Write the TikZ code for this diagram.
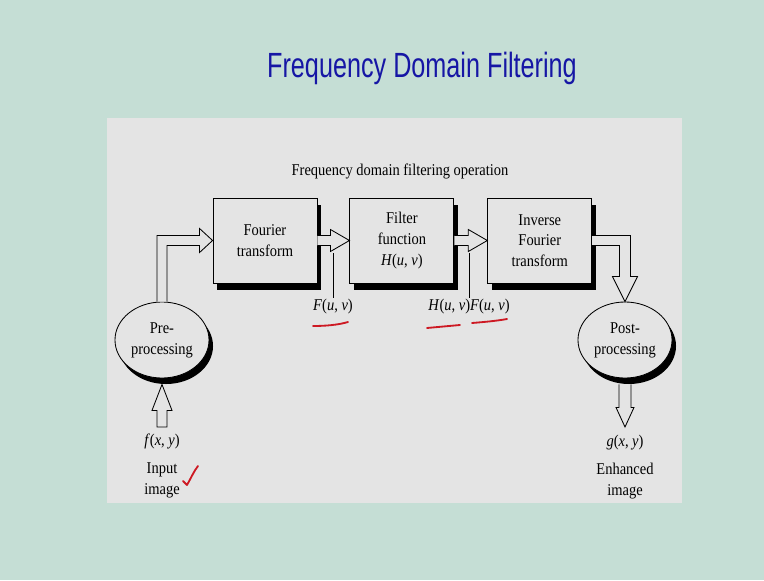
\documentclass[tikz,border=0pt]{standalone}
\usepackage{fontspec}
\setmainfont{Liberation Serif}[FakeStretch=0.88]
\newfontfamily\titlefont{Liberation Sans}[FakeStretch=0.72]
\usetikzlibrary{positioning, shapes.geometric, shadows, calc}

\definecolor{slidebg}{RGB}{197,222,213}
\definecolor{panelgray}{RGB}{228,228,228}
\definecolor{titleblue}{RGB}{22,22,165}
\definecolor{penred}{RGB}{205,25,35}

\begin{document}
\begin{tikzpicture}[
	x=0.025cm, y=-0.025cm,
	block/.style={
		draw,
		fill=panelgray,
		line width=0.6pt,
		minimum width=2.6cm,
		minimum height=2.125cm,
		align=center,
		font=\fontsize{11.7}{14.8}\selectfont,
		general shadow={fill=black, shadow xshift=0.1cm, shadow yshift=-0.175cm}
	},
	procellipse/.style={
		ellipse,
		draw,
		fill=panelgray,
		line width=0.6pt,
		minimum width=2.35cm,
		minimum height=1.9cm,
		inner sep=0pt,
		align=center,
		font=\fontsize{11.7}{14.8}\selectfont,
		general shadow={fill=black, shadow xshift=0.1cm, shadow yshift=-0.15cm}
	},
	sigtext/.style={font=\fontsize{11.7}{14.8}\selectfont, align=center, inner sep=1pt},
	hollow/.style={draw, fill=panelgray, line width=0.6pt},
	tap/.style={line width=0.5pt},
	pen/.style={draw=penred, line width=1.3pt, line cap=round, line join=round}
	]
	
	% ======================
	% Slide and panel
	% ======================
	\fill[slidebg] (0,0) rectangle (764,580);
	\useasboundingbox (0,0) rectangle (764,580);
	\fill[panelgray] (107,118) rectangle (682,503);
	
	\node (title) [anchor=base, text=titleblue, font=\titlefont\fontsize{24.9}{28}\selectfont] at (422,77) {Frequency Domain Filtering};
	\node (caption) [sigtext] at (400,171) {Frequency domain filtering operation};
	
	% ======================
	% Filtering chain
	% ======================
	\node (ft) [block] at (265,240.5) {Fourier\\transform};
	\node (filter) [block, right=0.8cm of ft] {Filter\\function\\\textit{H}(\textit{u}, \textit{v})};
	\node (ift) [block, right=0.825cm of filter] {Inverse\\Fourier\\transform};
	
	% Pre / post processing
	\node (pre) [procellipse] at (162,340) {Pre-\\processing};
	\node (post) [procellipse] at (625,340) {Post-\\processing};
	
	% Signals
	\node (fxy) [sigtext] at (162,441) {\textit{f}(\textit{x}, \textit{y})};
	\node (inimg) [sigtext] at (162,480) {Input\\image};
	\node (gxy) [sigtext] at (625,443) {\textit{g}(\textit{x}, \textit{y})};
	\node (outimg) [sigtext] at (625,481) {Enhanced\\image};
	\node (fuv) [sigtext] at (333,307) {\textit{F}(\textit{u}, \textit{v})};
	\node (hf) [sigtext] at (469,307) {\textit{H}(\textit{u}, \textit{v})\textit{F}(\textit{u}, \textit{v})};
	
	% ======================
	% Hollow arrows
	% ======================
	\coordinate (inbase) at (162,427);
	\coordinate (outtip) at (625,427);
	
	\draw[hollow] ($(inbase)+(-5,0)$) -- ($(pre.south)+(-5,32)$) -- ++(-5,0) -- ($(pre.south)+(0,6)$)
		-- ($(pre.south)+(10,32)$) -- ++(-5,0) -- ($(inbase)+(5,0)$) -- cycle;
	
	\draw[hollow] ($(pre.north)+(-5,0)$) |- ($(ft.west)+(-13,-5)$) -- ++(0,-7) -- (ft.west)
		-- ($(ft.west)+(-13,12)$) -- ++(0,-7) -| ($(pre.north)+(5,0)$);
	
	\draw[hollow] ($(ft.east)+(0,-5)$) -- ($(filter.west)+(-19,-5)$) -- ++(0,-6) -- (filter.west)
		-- ($(filter.west)+(-19,11)$) -- ++(0,-6) -- ($(ft.east)+(0,5)$);
	
	\draw[hollow] ($(filter.east)+(0,-5)$) -- ($(ift.west)+(-19,-5)$) -- ++(0,-6) -- (ift.west)
		-- ($(ift.west)+(-19,11)$) -- ++(0,-6) -- ($(filter.east)+(0,5)$);
	
	\draw[hollow] ($(ift.east)+(0,-5)$) -| ($(post.north)+(5.5,-25)$) -- ++(7,0) -- (post.north)
		-- ($(post.north)+(-12.5,-25)$) -- ++(7,0) |- ($(ift.east)+(0,5)$);
	
	\draw[hollow] ($(post.south)+(-6,6)$) -- ($(post.south)+(-6,29)$) -- ++(-3,0) -- (outtip)
		-- ($(post.south)+(9,29)$) -- ++(-3,0) -- ($(post.south)+(6,6)$);
	
	% Taps to the spectra
	\coordinate (tapF) at ($(ft.east)+(0,12)$);
	\draw[tap] (fuv.north) -- (fuv.north |- tapF);
	\draw[tap] (hf.north) -- (hf.north |- tapF);
	
	% ======================
	% Pen marks
	% ======================
	\draw[pen] (313,326) .. controls (325,326) and (338,325) .. (348,322);
	\draw[pen] (427,328) -- (460,325);
	\draw[pen] (472,323) .. controls (484,322) and (496,321) .. (507,319);
	\draw[pen] (183,481) -- (187,485) .. controls (191,478) and (194,471) .. (198,466);
	
\end{tikzpicture}
\end{document}
